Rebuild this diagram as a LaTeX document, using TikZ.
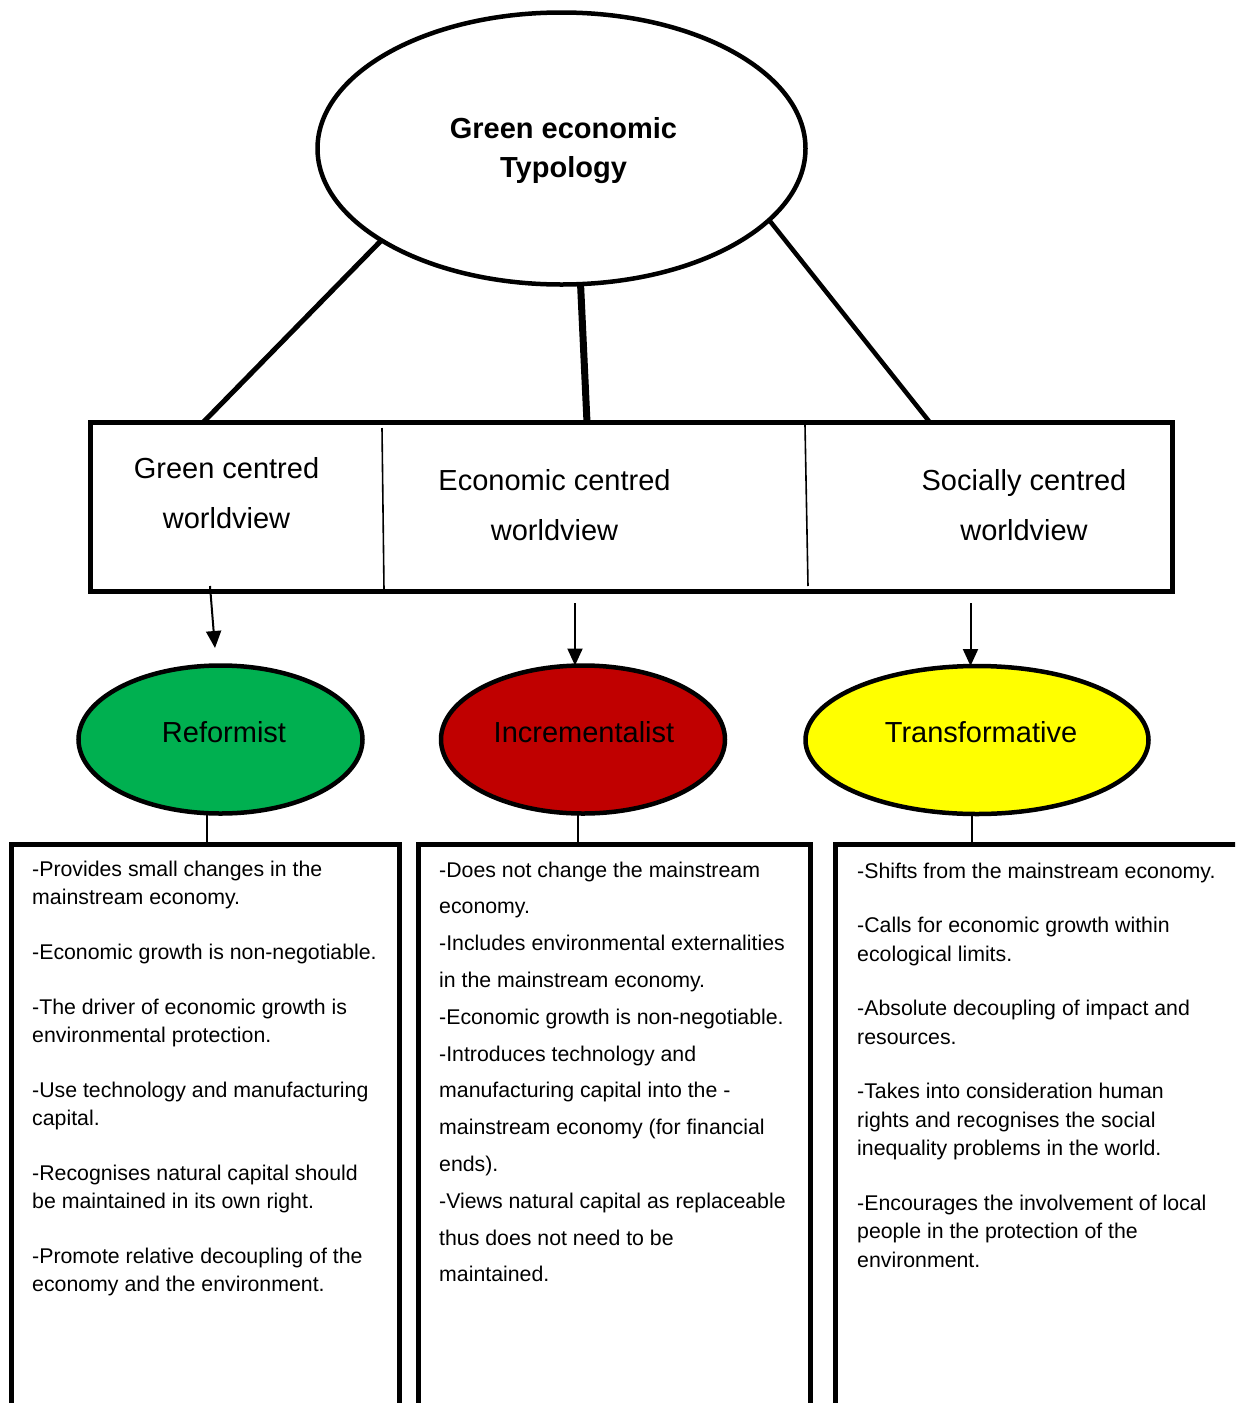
\documentclass[tikz,border=0pt]{standalone}
\usepackage{fontspec}
\setmainfont{Liberation Sans}
\usetikzlibrary{shapes.geometric,arrows.meta}

\definecolor{refgreen}{HTML}{00B050}
\definecolor{incred}{HTML}{C00000}
\definecolor{trayellow}{HTML}{FFFF00}

\tikzset{
  bubble/.style={ellipse, draw, line width=4.5pt, inner sep=0pt, outer sep=0pt},
  heavy/.style={line width=4.5pt},
  thinrule/.style={line width=1.6pt},
  arr/.style={line width=2pt, -{Triangle[length=17pt,width=15pt]}},
  big/.style={font=\fontsize{29}{50}\selectfont, inner sep=0pt, anchor=base},
  body/.style={inner sep=0pt, anchor=base west},
}

\begin{document}
\begin{tikzpicture}[x=1pt,y=-1pt]
\useasboundingbox (0,0) rectangle (1235,1403);
\clip (0,0) rectangle (1235,1403);

% title bubble
\node[bubble, minimum width=488pt, minimum height=272pt] (top) at (561.5,148.5) {};
\node[font=\bfseries\fontsize{29}{39}\selectfont, inner sep=0pt, anchor=base] (title) at (563.5,138)
  {\vtop{\halign{\hfil#\hfil\cr Green economic\cr Typology\cr}}};

% worldview band
\node[draw, heavy, minimum width=1082pt, minimum height=169pt, inner sep=0pt, outer sep=0pt] (wv) at (631.5,507) {};
\draw[thinrule] (382,428) -- (384,590);
\draw[thinrule] (805,425) -- (808,586);

\node[big] (gcw) at (226.5,478) {\vtop{\halign{\hfil#\hfil\cr Green centred\cr worldview\cr}}};
\node[big] (ecw) at (554.5,490) {\vtop{\halign{\hfil#\hfil\cr Economic centred\cr worldview\cr}}};
\node[big] (scw) at (1024,490) {\vtop{\halign{\hfil#\hfil\cr Socially centred\cr worldview\cr}}};

% connectors from the title bubble
\coordinate (wvL) at (203,422.5);
\coordinate (wvM) at (587,422.5);
\coordinate (wvR) at (930,422.5);
\draw[line width=5pt] (top.207.5) -- (wvL);
\draw[line width=7pt] (top.278) -- (wvM);
\draw[line width=4.5pt] (top.341.3) -- (wvR);

% typology bubbles
\node[bubble, fill=refgreen, minimum width=284pt, minimum height=148pt] (ref) at (220.5,739.5) {};
\node[bubble, fill=incred, minimum width=284pt, minimum height=148pt] (inc) at (583,739.5) {};
\node[bubble, fill=trayellow, minimum width=343pt, minimum height=148pt] (tra) at (977,740) {};
\node[big] (reflbl) at (224,742) {Reformist};
\node[big] (inclbl) at (584,742) {Incrementalist};
\node[big] (tralbl) at (981,742) {Transformative};

% arrows from the worldview band
\coordinate (a1s) at (210,586);
\coordinate (a1e) at (215,648);
\draw[arr] (a1s) -- (a1e);
\coordinate (a2s) at (575,603);
\draw[arr] (a2s) -- (a2s |- inc.north);
\coordinate (a3s) at (970.5,603);
\draw[arr] (a3s) -- (a3s |- tra.north);

% links to the description boxes
\coordinate (b1) at (207,844.5);
\coordinate (b2) at (578,844.5);
\coordinate (b3) at (972,844.5);
\draw[thinrule] (ref.south -| b1) -- (b1);
\draw[thinrule] (inc.south -| b2) -- (b2);
\draw[thinrule] (tra.south -| b3) -- (b3);

% description boxes (open at the bottom edge)
\draw[heavy] (11.5,1410) -- (11.5,844.5) -- (399.5,844.5) -- (399.5,1410);
\draw[heavy] (418.5,1410) -- (418.5,844.5) -- (810.5,844.5) -- (810.5,1410);
\draw[heavy] (835.5,1410) -- (835.5,844.5) -- (1245,844.5);

\node[body, font=\fontsize{21.3}{28}\selectfont] (t1) at (32,876) {\vtop{\halign{#\hfil\cr
-Provides small changes in the\cr
mainstream economy.\cr\noalign{\vskip27pt}
-Economic growth is non-negotiable.\cr\noalign{\vskip27pt}
-The driver of economic growth is\cr
environmental protection.\cr\noalign{\vskip27pt}
-Use technology and manufacturing\cr
capital.\cr\noalign{\vskip27pt}
-Recognises natural capital should\cr
be maintained in its own right.\cr\noalign{\vskip27pt}
-Promote relative decoupling of the\cr
economy and the environment.\cr}}};

\node[body, font=\fontsize{21.3}{36.8}\selectfont] (t2) at (439,877) {\vtop{\halign{#\hfil\cr
-Does not change the mainstream\cr
economy.\cr
-Includes environmental externalities\cr
in the mainstream economy.\cr
-Economic growth is non-negotiable.\cr
-Introduces technology and\cr
manufacturing capital into the -\cr
mainstream economy (for financial\cr
ends).\cr
-Views natural capital as replaceable\cr
thus does not need to be\cr
maintained.\cr}}};

\node[body, font=\fontsize{21.3}{28.5}\selectfont] (t3) at (857,878) {\vtop{\halign{#\hfil\cr
-Shifts from the mainstream economy.\cr\noalign{\vskip26pt}
-Calls for economic growth within\cr
ecological limits.\cr\noalign{\vskip26pt}
-Absolute decoupling of impact and\cr
resources.\cr\noalign{\vskip26pt}
-Takes into consideration human\cr
rights and recognises the social\cr
inequality problems in the world.\cr\noalign{\vskip26pt}
-Encourages the involvement of local\cr
people in the protection of the\cr
environment.\cr}}};
\end{tikzpicture}
\end{document}
